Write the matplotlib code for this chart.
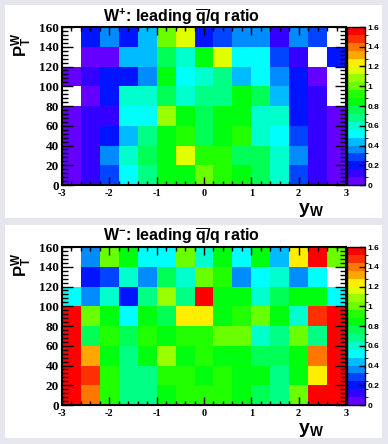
import colorsys
import numpy as np
import matplotlib
matplotlib.use("Agg")
import matplotlib.pyplot as plt
from matplotlib.colors import ListedColormap, BoundaryNorm
from matplotlib.patches import Rectangle
from matplotlib.ticker import MultipleLocator, FuncFormatter

plt.rcParams['mathtext.fontset'] = 'custom'
plt.rcParams['mathtext.rm'] = 'Liberation Sans:bold'
plt.rcParams['mathtext.it'] = 'Liberation Sans:bold'
plt.rcParams['mathtext.bf'] = 'Liberation Sans:bold'

# binning: rapidity y_W and transverse momentum P_T^W
yw_edges = np.arange(-3.0, 3.01, 0.4)
pt_edges = np.arange(0, 161, 20)

# leading qbar/q ratio, rows from pT = 0-20 upward, None = empty bin
n = None
ratio_wplus = [
    [0.04, 0.12, 0.28, 0.52, 0.68, 0.84, 0.84, 1.00, 0.92, 0.84, 0.76, 0.60, 0.28, 0.12, 0.04],
    [0.04, 0.12, 0.36, 0.60, 0.76, 0.84, 1.16, 0.92, 0.92, 0.76, 0.76, 0.60, 0.36, 0.12, 0.04],
    [0.04, 0.12, 0.20, 0.44, 0.68, 0.84, 0.92, 0.76, 0.84, 0.92, 0.60, 0.52, 0.28, 0.12, 0.04],
    [0.04, 0.12, 0.12, 0.52, 0.52, 1.08, 0.84, 0.76, 0.84, 0.84, 0.60, 0.60, 0.20, 0.12, 0.04],
    [n,    0.04, 0.20, 0.60, 0.60, 0.76, 0.60, 0.68, 0.68, 0.84, 0.76, 0.44, 0.20, 0.12, n],
    [0.04, 0.12, 0.20, 0.20, 0.36, 0.84, 0.52, 0.60, 0.68, 0.44, 0.52, 0.36, 0.20, 0.04, n],
    [n,    0.04, 0.04, 0.44, 0.44, 0.76, 0.60, 0.84, 1.16, 0.52, 0.52, 0.28, 0.12, n,    0.20],
    [n,    0.20, 0.36, 0.20, 0.44, 1.00, 1.16, 0.20, 0.28, 0.36, 0.36, 0.12, 0.36, 0.28, n],
]
ratio_wminus = [
    [1.60, 1.40, 0.92, 0.68, 0.68, 0.84, 0.92, 0.92, 0.92, 0.84, 0.76, 0.68, 1.00, 1.60, 1.60],
    [1.60, 1.48, 0.92, 0.68, 0.68, 0.92, 0.92, 0.84, 0.92, 0.84, 0.84, 0.68, 0.84, 1.24, 1.60],
    [1.60, 1.32, 0.84, 0.68, 0.84, 1.08, 0.84, 0.92, 0.84, 0.84, 0.76, 0.76, 0.84, 1.40, 1.60],
    [1.60, 0.76, 0.92, 0.76, 0.92, 0.84, 0.92, 0.92, 1.00, 1.00, 0.60, 0.68, 1.00, 0.68, 1.60],
    [1.60, 1.00, 0.84, 0.52, 0.84, 0.76, 1.24, 1.24, 0.84, 0.92, 1.00, 0.84, 0.60, 1.48, 1.60],
    [0.52, 0.36, 0.60, 0.20, 0.68, 1.08, 0.68, 1.60, 0.84, 0.84, 0.60, 0.76, 0.84, 0.84, 0.52],
    [n,    0.20, 0.28, 0.60, 0.36, 0.76, 0.60, 1.00, 0.92, 0.36, 0.52, 0.60, 0.36, 0.52, n],
    [n,    0.36, 1.00, 0.84, 0.52, 0.52, 1.00, 0.60, 0.84, 0.52, 0.84, 0.44, 1.24, 1.60, 1.00],
]
titles = [r'$\mathrm{W^{+}}$: leading $\mathrm{\overline{q}}$/q ratio',
          r'$\mathrm{W^{-}}$: leading $\mathrm{\overline{q}}$/q ratio']
zmax = 1.6
ncont = 20

# ROOT "pretty" palette, 20 contours
cols = []
for k in range(ncont):
    idx = int((k + 0.99) * 50 / ncont)
    if idx >= 49:
        cols.append((1.0, 0.0, 0.0))
    else:
        hue = 280 - (idx + 1) * 5.6
        cols.append(colorsys.hls_to_rgb(hue / 360.0, 0.5, 1.0))
cmap = ListedColormap(cols)
cmap.set_bad('white')
norm = BoundaryNorm(np.linspace(0, zmax, ncont + 1), ncont, clip=True)

W, H = 388, 444
fig = plt.figure(figsize=(W / 100, H / 100), dpi=100)
fig.patch.set_facecolor('#e6e6ef')

serif = dict(family='Liberation Serif', weight='bold')

def fx(px):
    return px / W

def fy(py):
    return 1 - py / H

def panel(off, data, title):
    fig.patches.append(Rectangle((fx(5), fy(218 + off)), fx(377), 213 / H,
                                 transform=fig.transFigure, facecolor='white',
                                 edgecolor='none', zorder=-5))
    ax = fig.add_axes([fx(62), fy(185 + off), fx(284), 158 / H])
    ax.set_zorder(2)
    z = np.ma.masked_invalid(np.array(data, dtype=float))
    mesh = ax.pcolormesh(yw_edges, pt_edges, z, cmap=cmap, norm=norm)
    ax.set_xlim(-3, 3)
    ax.set_ylim(0, 160)
    ax.xaxis.set_major_locator(MultipleLocator(1))
    ax.xaxis.set_minor_locator(MultipleLocator(0.2))
    ax.yaxis.set_major_locator(MultipleLocator(20))
    ax.yaxis.set_minor_locator(MultipleLocator(4))
    ax.tick_params(which='both', direction='in', top=True, right=True, width=1)
    ax.tick_params(axis='x', which='major', length=6, pad=3)
    ax.tick_params(axis='x', which='minor', length=3)
    ax.tick_params(axis='y', which='major', length=8, pad=2)
    ax.tick_params(axis='y', which='minor', length=4)
    ax.xaxis.set_major_formatter(FuncFormatter(lambda v, p: f"{v:g}"))
    for lab in ax.get_xticklabels():
        lab.set(fontsize=7.5, **serif)
    for lab in ax.get_yticklabels():
        lab.set(fontsize=9.5, **serif)
    for s in ax.spines.values():
        s.set_linewidth(1.5)

    cax = fig.add_axes([fx(347), fy(185 + off), fx(18), 158 / H])
    cax.set_zorder(2)
    cb = fig.colorbar(mesh, cax=cax, ticks=np.arange(0, 1.61, 0.2))
    cb.outline.set_linewidth(1)
    cax.yaxis.set_major_formatter(FuncFormatter(lambda v, p: f"{v:g}"))
    cax.tick_params(direction='in', length=4, width=1, pad=2, labelsize=6)
    for lab in cax.get_yticklabels():
        lab.set_fontfamily('Liberation Sans')
        lab.set_fontweight('bold')

    fig.text(fx(181), fy(22 + off), title, ha='center', va='baseline',
             fontsize=11.5, family='Liberation Sans', weight='bold')
    fig.text(fx(21.5), fy(45 + off), r'$\mathrm{P^{W}_{T}}$', rotation=90,
             ha='center', va='center', fontsize=12)
    fig.text(fx(311), fy(213 + off), r'$\mathrm{y_{W}}$', ha='center',
             va='baseline', fontsize=14)

panel(0, ratio_wplus, titles[0])
panel(220, ratio_wminus, titles[1])

fig.savefig('out.png', dpi=100, facecolor=fig.get_facecolor())
